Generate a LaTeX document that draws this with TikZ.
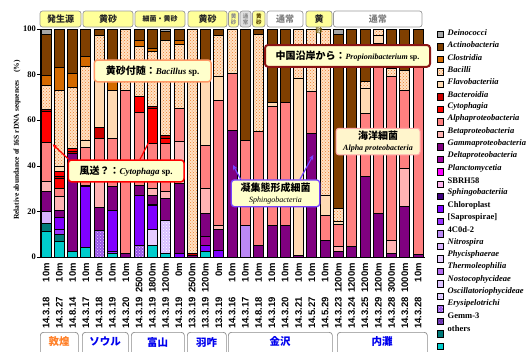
\documentclass[tikz,border=0pt]{standalone}
\usepackage{fontspec}
\setmainfont{Liberation Serif}
\newfontfamily\sansb{Liberation Sans}
\newfontfamily\cjk{Noto Sans CJK JP}
\usetikzlibrary{patterns,arrows.meta,calc}
\definecolor{cDeiC}{HTML}{A6A6A6}
\definecolor{cActC}{HTML}{7F3F00}
\definecolor{cCloC}{HTML}{D46A00}
\definecolor{cBacBg}{HTML}{FFE2C4}
\definecolor{cBacDot}{HTML}{EE8030}
\definecolor{cFlaC}{HTML}{FFDAB3}
\definecolor{cBacdC}{HTML}{CC0000}
\definecolor{cCytC}{HTML}{FF0000}
\definecolor{cAlpC}{HTML}{FF8080}
\definecolor{cBetC}{HTML}{FFB3B3}
\definecolor{cGamC}{HTML}{800080}
\definecolor{cDelC}{HTML}{A000A0}
\definecolor{cPlaC}{HTML}{FF00FF}
\definecolor{cSbrC}{HTML}{FFB3EE}
\definecolor{cSphC}{HTML}{400080}
\definecolor{cChlC}{HTML}{8000FF}
\definecolor{cSapC}{HTML}{9933FF}
\definecolor{cCodC}{HTML}{BB88F5}
\definecolor{cNitC}{HTML}{D9B3FF}
\definecolor{cPhyC}{HTML}{E6CCFF}
\definecolor{cTheC}{HTML}{B36BF0}
\definecolor{cNosC}{HTML}{DCC2FF}
\definecolor{cOscC}{HTML}{D8BFFF}
\definecolor{cEryC}{HTML}{9955E6}
\definecolor{cGemC}{HTML}{6633AA}
\definecolor{cOthC}{HTML}{007A7A}
\definecolor{cCyaC}{HTML}{00CCCC}
\definecolor{grpY}{HTML}{FFFF99}
\definecolor{calY}{HTML}{FFFFCC}
\definecolor{locOr}{HTML}{FF7F27}
\definecolor{locBl}{HTML}{0000EE}
\newcommand\drawbar[2]{%
  \pgfmathsetmacro\bxc{46+(#1-1)*13.29}%
  \foreach \segtop/\segsty [remember=\segtop as \segbot (initially 0)] in {#2}{%
    \edef\doseg{\noexpand\path[seg,\segsty]}%
    \doseg (\bxc-5,{257-2.28*\segbot}) rectangle (\bxc+5,{257-2.28*\segtop});
  }%
}
\newcommand\xlab[3]{%
  \pgfmathsetmacro\bxc{46+(#1-1)*13.29}%
  \node[xl] (x#1) at (\bxc,263) {#2\hspace{5pt}\makebox[29pt][r]{#3}};%
}
\begin{document}
\begin{tikzpicture}[x=1pt,y=-1pt,
  seg/.style={draw=black, line width=0.8pt},
  cDei/.style={fill=cDeiC}, cAct/.style={fill=cActC}, cClo/.style={fill=cCloC},
  cBac/.style={preaction={fill=cBacBg}, pattern=crosshatch dots, pattern color=cBacDot},
  cFla/.style={fill=cFlaC}, cBacd/.style={fill=cBacdC}, cCyt/.style={fill=cCytC},
  cAlp/.style={fill=cAlpC}, cBet/.style={fill=cBetC}, cGam/.style={fill=cGamC},
  cDel/.style={fill=cDelC}, cPla/.style={fill=cPlaC}, cSbr/.style={fill=cSbrC},
  cSph/.style={fill=cSphC}, cChl/.style={fill=cChlC}, cSap/.style={fill=cSapC},
  cCod/.style={fill=cCodC}, cNit/.style={fill=cNitC}, cPhy/.style={fill=cPhyC},
  cThe/.style={fill=cTheC}, cNos/.style={fill=cNosC},
  cOsc/.style={preaction={fill=cOscC}, pattern=crosshatch dots, pattern color=white},
  cEry/.style={preaction={fill=cEryC}, pattern=crosshatch dots, pattern color=cPhyC},
  cGem/.style={preaction={fill=cGemC}, pattern=crosshatch dots, pattern color=cEryC},
  cOth/.style={fill=cOthC}, cCya/.style={fill=cCyaC},
  xl/.style={rotate=90, anchor=east, inner sep=0pt, font=\sansb\bfseries\fontsize{9.5}{10}\selectfont},
  leg/.style={anchor=west, inner sep=0pt, font=\bfseries\fontsize{8.5}{9}\selectfont},
  grp/.style={draw=black!40, line width=0.7pt, rounded corners=2.5pt, inner sep=0pt, minimum height=16pt, font=\cjk\bfseries\fontsize{9}{10}\selectfont, text=black!85},
  grpv/.style={grp, align=center, font=\cjk\bfseries\fontsize{5.5}{6}\selectfont},
  loc/.style={draw=black!45, fill=white, rounded corners=3pt, line width=0.7pt, inner sep=0pt, minimum height=28pt, anchor=north west},
  loct/.style={font=\cjk\bfseries\fontsize{10.5}{11}\selectfont, text=locBl, inner sep=0pt},
  callout/.style={rounded corners=3pt, fill=calY, inner sep=1pt, align=center},
  ra/.style={-{Stealth[length=5pt,width=4.5pt]}, line width=1.2pt, draw=red},
  va/.style={-{Stealth[length=5pt,width=4.5pt]}, line width=1.2pt, draw={rgb,255:red,119;green,68;blue,255}},
]
\useasboundingbox (0,0) rectangle (526,351);
% bars
\drawbar{1}{11.1/cCya,14.6/cOth,19.9/cNit,28.9/cGam,33.3/cBet,50.3/cAlp,63.7/cCyt,64.8/cBacd,75.4/cBac,79.5/cClo,97.7/cAct,100/cDei}
\drawbar{2}{6.7/cCya,9.9/cOth,12.3/cSap,17.3/cChl,20.6/cGam,26.5/cBet,30.1/cAlp,34.5/cCyt,35.5/cBacd,37.4/cCyt,39.6/cFla,73.1/cBac,83/cClo,100/cAct}
\drawbar{3}{2.3/cCya,45.5/cGam,46.2/cBacd,47.5/cCyt,74.3/cBac,80.6/cClo,100/cAct}
\drawbar{4}{4/cCya,30.8/cChl,31.5/cGam,48/cAlp,51.3/cFla,83.5/cBac,88/cClo,100/cAct}
\drawbar{5}{11.8/cEry,21.6/cGam,40/cBet,52/cAlp,57/cBacd,80/cFla,97.4/cBac,100/cAct}
\drawbar{6}{1.6/cCya,2.5/cSap,20.6/cChl,30.8/cGam,52/cAlp,73.2/cFla,79/cClo,100/cAct}
\drawbar{7}{1.5/cGam,73.2/cAlp,100/cBac}
\drawbar{8}{5/cEry,27.2/cChl,31.6/cGam,63.5/cAlp,70.3/cCyt,92.3/cBac,95.2/cClo,100/cAct}
\drawbar{9}{5.3/cCya,12/cPhy,22.5/cChl,23.2/cSph,27/cGam,30/cBet,50/cAlp,65/cCyt,66/cBacd,90.3/cBac,91.5/cClo,100/cAct}
\drawbar{10}{1.5/cCya,16.2/cOsc,25.7/cGam,28.7/cBet,49.9/cAlp,52/cCyt,53.5/cBacd,95.2/cBac,98.8/cAct,100/cDei}
\drawbar{11}{1.6/cChl,32.3/cGam,50.6/cBet,65.2/cAlp,93.3/cBac,95.2/cClo,100/cAct}
\drawbar{12}{0.8/cGam,1.6/cBacd,100/cBac}
\drawbar{13}{2.3/cCya,5.3/cChl,8.9/cDel,19.1/cGam,30.1/cBet,49.1/cAlp,79.2/cFla,100/cAct}
\drawbar{14}{3.1/cChl,12.3/cGam,14/cBet,68.9/cAlp,79.1/cFla,97.4/cBac,100/cAct}
\drawbar{15}{55.7/cGam,80.6/cAlp,100/cBac}
\drawbar{16}{14/cCod,51.3/cAlp,100/cAct}
\drawbar{17}{5/cGam,55.3/cAlp,97.7/cBac,100/cAct}
\drawbar{18}{14/cGam,66.2/cAlp,67.7/cFla,100/cAct}
\drawbar{19}{14/cGam,67.7/cAlp,100/cAct}
\drawbar{20}{0.9/cGam,78.4/cFla,100/cBac}
\drawbar{21}{54.2/cGam,72.5/cAlp,100/cBac}
\drawbar{22}{7.5/cGam,18.4/cAlp,27.2/cFla,100/cBac}
\drawbar{23}{2.6/cGam,4.5/cBet,14.2/cAlp,15.5/cFla,21.2/cBac,97.7/cAct,100/cDei}
\drawbar{24}{4.5/cGam,56.4/cAlp,100/cAct}
\drawbar{25}{35.2/cGam,63/cAlp,74/cFla,77.2/cBac,100/cAct}
\drawbar{26}{19.1/cGam,93.7/cAlp,97.4/cFla,100/cBac}
\drawbar{27}{1.6/cGam,7.5/cBet,79/cAlp,82.7/cBac,100/cAct}
\drawbar{28}{22.1/cGam,38.9/cBet,73.2/cAlp,82/cBac,100/cAct}
\drawbar{29}{1/cGam,83.5/cAlp,100/cAct}
% axes
\draw[line width=0.8pt] (40,29) -- (40,257) -- (424.5,257);
\foreach \v in {0,20,40,60,80,100}{
  \draw[line width=0.6pt] (37,{257-2.28*\v}) -- (40,{257-2.28*\v});
  \node[anchor=east, inner sep=0pt, font=\bfseries\fontsize{8.5}{9}\selectfont] (t\v) at (36,{257-2.28*\v}) {\v};
}
\node[rotate=90, inner sep=0pt, font=\bfseries\fontsize{7.5}{8}\selectfont] (ytitle) at (17,140) {Relative abundance of 16S rDNA sequences\quad(\%)};
% x labels
\xlab{1}{14.3.18}{10m}\xlab{2}{14.3.27}{10m}\xlab{3}{14.8.14}{10m}\xlab{4}{14.3.17}{10m}
\xlab{5}{14.3.18}{10m}\xlab{6}{14.3.19}{10m}\xlab{7}{14.3.20}{10m}\xlab{8}{14.3.19}{2500m}
\xlab{9}{14.3.19}{1800m}\xlab{10}{14.3.19}{1200m}\xlab{11}{14.3.19}{0m}\xlab{12}{13.3.19}{2500m}
\xlab{13}{13.3.19}{1200m}\xlab{14}{13.3.19}{0m}\xlab{15}{14.3.16}{10m}\xlab{16}{14.3.17}{10m}
\xlab{17}{14.8.18}{10m}\xlab{18}{14.3.19}{10m}\xlab{19}{14.3.20}{10m}\xlab{20}{14.3.21}{10m}
\xlab{21}{14.5.27}{10m}\xlab{22}{14.5.29}{10m}\xlab{23}{14.3.23}{1200m}\xlab{24}{14.3.24}{1200m}
\xlab{25}{14.3.25}{1200m}\xlab{26}{14.3.29}{1200m}\xlab{27}{14.3.28}{3000m}\xlab{28}{14.3.28}{1000m}
\xlab{29}{14.3.28}{10m}
% top group boxes
\node[grp, fill=grpY, minimum width=41pt] (g1) at (60.5,19) {発生源};
\node[grp, fill=grpY, minimum width=50pt] (g2) at (108,19) {黄砂};
\node[grp, fill=grpY, minimum width=50pt, font=\cjk\bfseries\fontsize{7}{8}\selectfont] (g3) at (160,19) {細菌・黄砂};
\node[grp, fill=grpY, minimum width=39pt] (g4) at (207.5,19) {黄砂};
\node[grpv, fill=grpY, minimum width=10pt, text=black!45] (g5) at (233.5,19) {黄\\砂};
\node[grpv, fill=black!12, minimum width=11pt, text=black!45] (g6) at (245.5,19) {通\\常};
\node[grpv, fill=grpY, minimum width=12.5pt, text={rgb,255:red,90;green,70;blue,0}] (g7) at (258.75,19) {黄\\砂};
\node[grp, fill=white, minimum width=36pt, text=black!50] (g8) at (285,19) {通常};
\node[grp, fill=grpY, minimum width=26pt] (g9) at (319,19) {黄};
\node[inner sep=0pt, font=\cjk\bfseries\fontsize{7}{8}\selectfont, text={rgb,255:red,120;green,100;blue,20}] (g9b) at (319,31) {砂};
\node[grp, fill=white, minimum width=88.5pt, text=black!50] (g10) at (377.75,19) {通常};
% callouts
\node[callout, draw={rgb,255:red,255;green,153;blue,102}, line width=1.5pt, minimum width=116.7pt, minimum height=21.7pt] (nBacil) at (152.7,70.9)
  {{\cjk\bfseries\fontsize{10}{11}\selectfont 黄砂付随：}{\bfseries\fontsize{9}{10}\selectfont\textit{Bacillus} sp.}};
\node[callout, draw=red, line width=1.5pt, minimum width=115.7pt, minimum height=21.7pt] (nCyto) at (126.2,170.9)
  {{\cjk\bfseries\fontsize{10}{11}\selectfont 風送？：}{\bfseries\fontsize{9}{10}\selectfont\textit{Cytophaga} sp.}};
\node[callout, draw={rgb,255:red,139;green,20;blue,20}, line width=2pt, minimum width=165pt, minimum height=21.7pt] (nProp) at (347.5,55.9)
  {{\cjk\bfseries\fontsize{10}{11}\selectfont 中国沿岸から：}{\bfseries\fontsize{8}{9}\selectfont\textit{Propionibacterium} sp.}};
\node[callout, draw={rgb,255:red,255;green,170;blue,170}, line width=1pt, fill={rgb,255:red,255;green,245;blue,204}, minimum width=84pt, minimum height=26.7pt] (nAlp) at (378,141.6)
  {{\cjk\bfseries\fontsize{10}{11}\selectfont 海洋細菌}\\[-1pt]{\bfseries\fontsize{8}{9}\selectfont\textit{Alpha proteobacteria}}};
\node[callout, draw={rgb,255:red,119;green,68;blue,255}, line width=1.3pt, minimum width=88.4pt, minimum height=26.7pt] (nSph) at (275.5,193.3)
  {{\cjk\bfseries\fontsize{10}{11}\selectfont 凝集態形成細菌}\\[-1pt]{\fontsize{8}{9}\selectfont\textit{Sphingobacteria}}};
% arrows
\coordinate (tipA) at (52.7,144.3);
\coordinate (tipB) at (152,136);
\coordinate (tipC) at (233,165);
\coordinate (tipD) at (313.3,155);
\draw[ra] ([xshift=1pt]nCyto.north west) -- (tipA);
\draw[ra] ([xshift=13.8pt]nCyto.north) -- (tipB);
\draw[va] ([xshift=10pt]nSph.north west) -- (tipC);
\draw[va] ([xshift=24.5pt]nSph.north) -- (tipD);
% legend
\foreach \i/\st in {1/cDei,2/cAct,3/cClo,4/cBac,5/cFla,6/cBacd,7/cCyt,8/cAlp,9/cBet,10/cGam,11/cDel,12/cPla,13/cSbr,14/cSph,15/cChl,16/cSap,17/cCod,18/cNit,19/cPhy,20/cThe,21/cNos,22/cOsc,23/cEry,24/cGem,25/cOth,26/cCya}{
  \edef\doseg{\noexpand\path[seg,line width=0.6pt,\st]}%
  \doseg (437,{34.3+(\i-1)*12.48-3.25}) rectangle (443.5,{34.3+(\i-1)*12.48+3.25});
}
\foreach \i/\lab in {1/\textit{Deinococci},2/\textit{Actinobacteria},3/\textit{Clostridia},4/\textit{Bacilli},5/\textit{Flavobacteriia},6/\textit{Bacteroidia},7/\textit{Cytophagia},8/\textit{Alphaproteobacteria},9/\textit{Betaproteobacteria},10/\textit{Gammaproteobacteria},11/\textit{Deltaproteobacteria},12/\textit{Planctomycetia},13/SBRH58,14/\textit{Sphingobacteriia},15/Chloroplast,16/{[Saprospirae]},17/4C0d-2,18/\textit{Nitrospira},19/\textit{Phycisphaerae},20/\textit{Thermoleophilia},21/\textit{Nostocophycideae},22/\textit{Oscillatoriophycideae},23/\textit{Erysipelotrichi},24/Gemm-3,25/others}{
  \node[leg] (lg\i) at (447.5,{32.7+(\i-1)*12.32}) {\lab};
}
% location boxes
\node[loc, minimum width=38pt] (l1) at (40,332) {};
\node[loc, minimum width=46pt] (l2) at (82,332) {};
\node[loc, minimum width=53pt] (l3) at (131,332) {};
\node[loc, minimum width=39pt] (l4) at (187,332) {};
\node[loc, minimum width=104pt] (l5) at (228,332) {};
\node[loc, minimum width=90pt] (l6) at (337,332) {};
\node[loct, text=locOr] (lt1) at (59,342) {敦煌};
\node[loct] (lt2) at (105,342) {ソウル};
\node[loct] (lt3) at (157.5,342) {富山};
\node[loct] (lt4) at (206.5,342) {羽咋};
\node[loct] (lt5) at (280,342) {金沢};
\node[loct] (lt6) at (382,342) {内灘};
\end{tikzpicture}
\end{document}
